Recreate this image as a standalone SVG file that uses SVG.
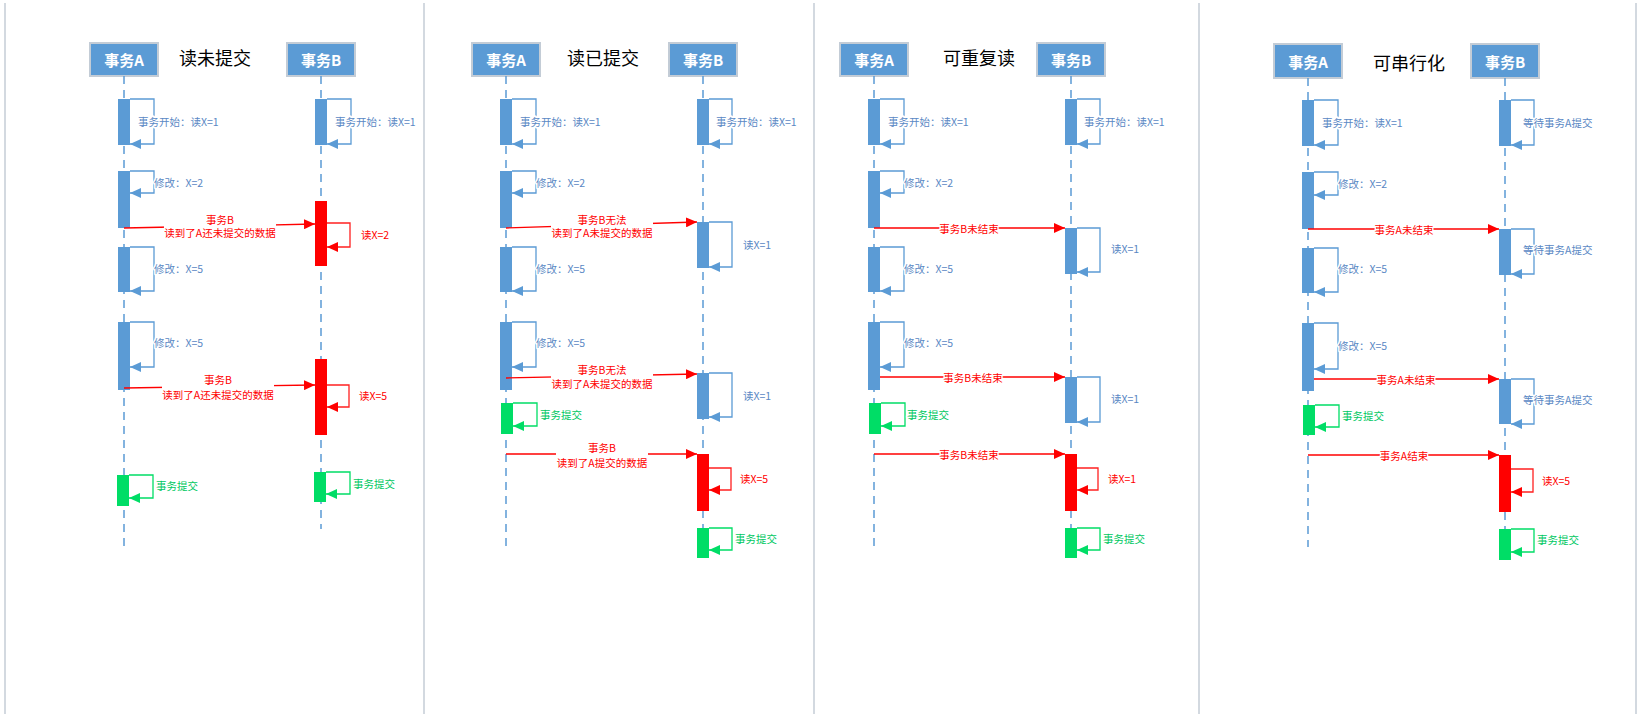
<svg xmlns="http://www.w3.org/2000/svg" width="1642" height="722" viewBox="0 0 1642 722">
<style>
text{font-family:"Noto Sans CJK SC","Liberation Sans",sans-serif}
.sep{stroke:#d3d9e0;stroke-width:2}
.hd rect{fill:#5b9bd5;stroke:#c3ccd6;stroke-width:2}
.hd text{fill:#fff;font-size:15px;font-weight:bold;text-anchor:middle;dominant-baseline:central}
.title{font-size:18px;fill:#000;text-anchor:middle;dominant-baseline:central}
.life{stroke:#5b9bd5;stroke-width:1.5;stroke-dasharray:8 6;fill:none}
.bb{fill:#5b9bd5}.br{fill:#ff0000}.bg{fill:#00dd66}
.lb{stroke:#5b9bd5;stroke-width:1.3;fill:none;marker-end:url(#ab)}
.lr{stroke:#ff2020;stroke-width:1.3;fill:none;marker-end:url(#ar)}
.lg{stroke:#00dd66;stroke-width:1.3;fill:none;marker-end:url(#ag)}
.msg{stroke:#ff0000;stroke-width:1.3;fill:none;marker-end:url(#ar)}
.t{font-size:10.5px;dominant-baseline:central;paint-order:stroke;stroke:#fff;stroke-width:3px;stroke-linejoin:round}
.tb{fill:#5a88c4}.tr{fill:#ff0000}.tg{fill:#00c862}
.m{text-anchor:middle}
.wb{fill:#fff}
</style>
<defs>
<marker id="ab" markerWidth="11" markerHeight="10" refX="11" refY="5" orient="auto" markerUnits="userSpaceOnUse"><path d="M0,0L11,5L0,10z" fill="#5b9bd5"/></marker>
<marker id="ar" markerWidth="11" markerHeight="10" refX="11" refY="5" orient="auto" markerUnits="userSpaceOnUse"><path d="M0,0L11,5L0,10z" fill="#ff0000"/></marker>
<marker id="ag" markerWidth="11" markerHeight="10" refX="11" refY="5" orient="auto" markerUnits="userSpaceOnUse"><path d="M0,0L11,5L0,10z" fill="#00dd66"/></marker>
</defs>
<rect width="1642" height="722" fill="#fff"/>
<g id="separators">
<line class="sep" x1="5" y1="3" x2="5" y2="714"/>
<line class="sep" x1="424" y1="3" x2="424" y2="714"/>
<line class="sep" x1="814" y1="3" x2="814" y2="714"/>
<line class="sep" x1="1199" y1="3" x2="1199" y2="714"/>
<line class="sep" x1="1636" y1="3" x2="1636" y2="714"/>
</g>

<!-- Panel 1: 读未提交 -->
<g id="panel1">
<text class="title" x="215" y="57">读未提交</text>
<g id="p1-A" class="hd"><rect x="90" y="43" width="68" height="33"/><text x="124" y="59.5">事务A</text></g>
<g id="p1-B" class="hd"><rect x="287" y="43" width="68" height="33"/><text x="321" y="59.5">事务B</text></g>
<g id="p1-lifelines"><line class="life" x1="124" y1="76" x2="124" y2="547"/><line class="life" x1="321" y1="76" x2="321" y2="529"/></g>
<g id="p1-activations">
<rect class="bb" x="118" y="99" width="12" height="46"/><path class="lb" d="M130 99H154V144H130"/>
<rect class="bb" x="118" y="171" width="12" height="57"/><path class="lb" d="M130 171H154V193H130"/>
<rect class="bb" x="118" y="247" width="12" height="45"/><path class="lb" d="M130 247H154V291H130"/>
<rect class="bb" x="118" y="322" width="12" height="68"/><path class="lb" d="M130 322H154V367H130"/>
<rect class="bg" x="117" y="475" width="12" height="31"/><path class="lg" d="M129 475H153V498H129"/>
<rect class="bb" x="315" y="99" width="12" height="46"/><path class="lb" d="M327 99H351V144H327"/>
<rect class="br" x="315" y="201" width="12" height="65"/><path class="lr" d="M327 223H350V247H327"/>
<rect class="br" x="315" y="359" width="12" height="76"/><path class="lr" d="M327 385H349V407H327"/>
<rect class="bg" x="314" y="472" width="12" height="30"/><path class="lg" d="M326 472H350V494H326"/>
</g>
<g id="p1-connectors">
<path class="msg" d="M124 228L315 224"/>
<path class="msg" d="M124 388L315 385"/>
</g>
<g id="p1-labels">
<text class="t tb" x="138" y="121">事务开始：读X=1</text>
<text class="t tb" x="154" y="182">修改：X=2</text>
<text class="t tb" x="154" y="268">修改：X=5</text>
<text class="t tb" x="154" y="342">修改：X=5</text>
<text class="t tg" x="156" y="485">事务提交</text>
<text class="t tb" x="335" y="121">事务开始：读X=1</text>
<text class="t tr" x="361" y="234">读X=2</text>
<text class="t tr" x="359" y="395">读X=5</text>
<text class="t tg" x="353" y="483">事务提交</text>
<rect class="wb" x="164" y="212" width="112" height="27"/>
<text class="t tr m" x="220" y="219">事务B</text>
<text class="t tr m" x="220" y="232">读到了A还未提交的数据</text>
<rect class="wb" x="162" y="372" width="112" height="29"/>
<text class="t tr m" x="218" y="379">事务B</text>
<text class="t tr m" x="218" y="394">读到了A还未提交的数据</text>
</g>
</g>

<!-- Panel 2: 读已提交 -->
<g id="panel2">
<text class="title" x="603" y="57">读已提交</text>
<g id="p2-A" class="hd"><rect x="472" y="43" width="68" height="33"/><text x="506" y="59.5">事务A</text></g>
<g id="p2-B" class="hd"><rect x="669" y="43" width="68" height="33"/><text x="703" y="59.5">事务B</text></g>
<g id="p2-lifelines"><line class="life" x1="506" y1="76" x2="506" y2="547"/><line class="life" x1="703" y1="76" x2="703" y2="528"/></g>
<g id="p2-activations">
<rect class="bb" x="500" y="99" width="12" height="46"/><path class="lb" d="M512 99H536V144H512"/>
<rect class="bb" x="500" y="171" width="12" height="57"/><path class="lb" d="M512 171H536V193H512"/>
<rect class="bb" x="500" y="247" width="12" height="45"/><path class="lb" d="M512 247H536V291H512"/>
<rect class="bb" x="500" y="322" width="12" height="68"/><path class="lb" d="M512 322H536V367H512"/>
<rect class="bg" x="501" y="403" width="12" height="31"/><path class="lg" d="M513 403H537V426H513"/>
<rect class="bb" x="697" y="99" width="12" height="46"/><path class="lb" d="M709 99H732V144H709"/>
<rect class="bb" x="697" y="222" width="12" height="46"/><path class="lb" d="M709 222H732V267H709"/>
<rect class="bb" x="697" y="373" width="12" height="46"/><path class="lb" d="M709 373H732V417H709"/>
<rect class="br" x="697" y="454" width="12" height="57"/><path class="lr" d="M709 468H731V490H709"/>
<rect class="bg" x="697" y="528" width="12" height="30"/><path class="lg" d="M709 528H732V550H709"/>
</g>
<g id="p2-connectors">
<path class="msg" d="M506 228L697 222"/>
<path class="msg" d="M506 378L697 374"/>
<path class="msg" d="M506 454H697"/>
</g>
<g id="p2-labels">
<text class="t tb" x="520" y="121">事务开始：读X=1</text>
<text class="t tb" x="536" y="182">修改：X=2</text>
<text class="t tb" x="536" y="268">修改：X=5</text>
<text class="t tb" x="536" y="342">修改：X=5</text>
<text class="t tg" x="540" y="414">事务提交</text>
<text class="t tb" x="716" y="121">事务开始：读X=1</text>
<text class="t tb" x="743" y="244">读X=1</text>
<text class="t tb" x="743" y="395">读X=1</text>
<text class="t tr" x="740" y="478">读X=5</text>
<text class="t tg" x="735" y="538">事务提交</text>
<rect class="wb" x="551" y="212" width="102" height="27"/>
<text class="t tr m" x="602" y="219">事务B无法</text>
<text class="t tr m" x="602" y="232">读到了A未提交的数据</text>
<rect class="wb" x="551" y="362" width="102" height="28"/>
<text class="t tr m" x="602" y="369">事务B无法</text>
<text class="t tr m" x="602" y="383">读到了A未提交的数据</text>
<rect class="wb" x="556" y="440" width="92" height="29"/>
<text class="t tr m" x="602" y="447">事务B</text>
<text class="t tr m" x="602" y="462">读到了A提交的数据</text>
</g>
</g>

<!-- Panel 3: 可重复读 -->
<g id="panel3">
<text class="title" x="979" y="57">可重复读</text>
<g id="p3-A" class="hd"><rect x="840" y="43" width="68" height="33"/><text x="874" y="59.5">事务A</text></g>
<g id="p3-B" class="hd"><rect x="1037" y="43" width="68" height="33"/><text x="1071" y="59.5">事务B</text></g>
<g id="p3-lifelines"><line class="life" x1="874" y1="76" x2="874" y2="547"/><line class="life" x1="1071" y1="76" x2="1071" y2="528"/></g>
<g id="p3-activations">
<rect class="bb" x="868" y="99" width="12" height="46"/><path class="lb" d="M880 99H904V144H880"/>
<rect class="bb" x="868" y="171" width="12" height="57"/><path class="lb" d="M880 171H904V193H880"/>
<rect class="bb" x="868" y="247" width="12" height="45"/><path class="lb" d="M880 247H904V291H880"/>
<rect class="bb" x="868" y="322" width="12" height="68"/><path class="lb" d="M880 322H904V367H880"/>
<rect class="bg" x="869" y="403" width="12" height="31"/><path class="lg" d="M881 403H905V426H881"/>
<rect class="bb" x="1065" y="99" width="12" height="46"/><path class="lb" d="M1077 99H1100V144H1077"/>
<rect class="bb" x="1065" y="228" width="12" height="46"/><path class="lb" d="M1077 228H1100V272H1077"/>
<rect class="bb" x="1065" y="377" width="12" height="46"/><path class="lb" d="M1077 377H1100V422H1077"/>
<rect class="br" x="1065" y="454" width="12" height="57"/><path class="lr" d="M1077 468H1098V490H1077"/>
<rect class="bg" x="1065" y="528" width="12" height="30"/><path class="lg" d="M1077 528H1100V550H1077"/>
</g>
<g id="p3-connectors">
<path class="msg" d="M874 228H1065"/>
<path class="msg" d="M880 377H1065"/>
<path class="msg" d="M874 454H1065"/>
</g>
<g id="p3-labels">
<text class="t tb" x="888" y="121">事务开始：读X=1</text>
<text class="t tb" x="904" y="182">修改：X=2</text>
<text class="t tb" x="904" y="268">修改：X=5</text>
<text class="t tb" x="904" y="342">修改：X=5</text>
<text class="t tg" x="907" y="414">事务提交</text>
<text class="t tb" x="1084" y="121">事务开始：读X=1</text>
<text class="t tb" x="1111" y="248">读X=1</text>
<text class="t tb" x="1111" y="398">读X=1</text>
<text class="t tr" x="1108" y="478">读X=1</text>
<text class="t tg" x="1103" y="538">事务提交</text>
<text class="t tr m" x="969" y="228">事务B未结束</text>
<text class="t tr m" x="973" y="377">事务B未结束</text>
<text class="t tr m" x="969" y="454">事务B未结束</text>
</g>
</g>

<!-- Panel 4: 可串行化 -->
<g id="panel4">
<text class="title" x="1409" y="62">可串行化</text>
<g id="p4-A" class="hd"><rect x="1274" y="44" width="68" height="34"/><text x="1308" y="61">事务A</text></g>
<g id="p4-B" class="hd"><rect x="1471" y="44" width="68" height="34"/><text x="1505" y="61">事务B</text></g>
<g id="p4-lifelines"><line class="life" x1="1308" y1="78" x2="1308" y2="547"/><line class="life" x1="1505" y1="78" x2="1505" y2="529"/></g>
<g id="p4-activations">
<rect class="bb" x="1302" y="100" width="12" height="46"/><path class="lb" d="M1314 100H1338V145H1314"/>
<rect class="bb" x="1302" y="172" width="12" height="57"/><path class="lb" d="M1314 172H1338V195H1314"/>
<rect class="bb" x="1302" y="248" width="12" height="45"/><path class="lb" d="M1314 248H1338V292H1314"/>
<rect class="bb" x="1302" y="323" width="12" height="68"/><path class="lb" d="M1314 323H1338V369H1314"/>
<rect class="bg" x="1303" y="405" width="12" height="30"/><path class="lg" d="M1315 405H1339V427H1315"/>
<rect class="bb" x="1499" y="100" width="12" height="46"/><path class="lb" d="M1511 100H1534V145H1511"/>
<rect class="bb" x="1499" y="229" width="12" height="46"/><path class="lb" d="M1511 229H1534V274H1511"/>
<rect class="bb" x="1499" y="379" width="12" height="45"/><path class="lb" d="M1511 379H1534V424H1511"/>
<rect class="br" x="1499" y="455" width="12" height="57"/><path class="lr" d="M1511 469H1533V492H1511"/>
<rect class="bg" x="1499" y="529" width="12" height="31"/><path class="lg" d="M1511 529H1534V552H1511"/>
</g>
<g id="p4-connectors">
<path class="msg" d="M1308 229H1499"/>
<path class="msg" d="M1314 379H1499"/>
<path class="msg" d="M1308 455H1499"/>
</g>
<g id="p4-labels">
<text class="t tb" x="1322" y="122">事务开始：读X=1</text>
<text class="t tb" x="1338" y="183">修改：X=2</text>
<text class="t tb" x="1338" y="268">修改：X=5</text>
<text class="t tb" x="1338" y="345">修改：X=5</text>
<text class="t tg" x="1342" y="415">事务提交</text>
<text class="t tb" x="1523" y="122">等待事务A提交</text>
<text class="t tb" x="1523" y="249">等待事务A提交</text>
<text class="t tb" x="1523" y="399">等待事务A提交</text>
<text class="t tr" x="1542" y="480">读X=5</text>
<text class="t tg" x="1537" y="539">事务提交</text>
<text class="t tr m" x="1404" y="229">事务A未结束</text>
<text class="t tr m" x="1406" y="379">事务A未结束</text>
<text class="t tr m" x="1404" y="455">事务A结束</text>
</g>
</g>
</svg>
